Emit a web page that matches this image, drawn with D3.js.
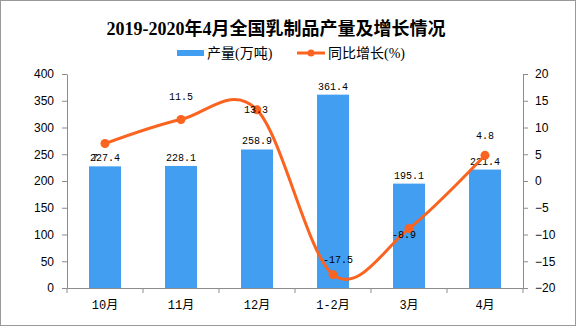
<!DOCTYPE html>
<html><head><meta charset="utf-8">
<script src="https://cdn.jsdelivr.net/npm/d3@7"></script>
<style>body{margin:0;background:#fff}svg{display:block}</style>
</head><body>
<script>
const categories = ["10月","11月","12月","1-2月","3月","4月"];
const output = [227.4, 228.1, 258.9, 361.4, 195.1, 221.4];
const growth = [7, 11.5, 13.3, -17.5, -8.9, 4.8];
const leftTicks = [0,50,100,150,200,250,300,350,400];
const rightTicks = [-20,-15,-10,-5,0,5,10,15,20];
const title = "2019-2020年4月全国乳制品产量及增长情况";
const legendNames = ["产量(万吨)","同比增长(%)"];
// label nudges (dx, dy from point) for the growth labels, as in the reference
const growthLabelNudge = [[-10,17],[0,-19],[-1,3],[5,-12],[-5,9],[0,-16]];

const W = 576, H = 327;
const barColor = "#419ef0", lineColor = "#fa6420", axisColor = "#8c8c8c";
const m = {l:67, r:523, t:74, b:288};

const svg = d3.select("body").append("svg").attr("width",W).attr("height",H);
svg.append("rect").attr("x",0.5).attr("y",0.5).attr("width",W-1).attr("height",325)
  .attr("fill","#fff").attr("stroke","#999");

const x = d3.scaleBand().domain(categories).range([m.l,m.r]).paddingInner(0.579).paddingOuter(0.2895);
const yL = d3.scaleLinear().domain([0,400]).range([m.b,m.t]);
const yR = d3.scaleLinear().domain([-20,20]).range([m.b,m.t]);

// title
svg.append("text").attr("x",276).attr("y",35).attr("text-anchor","middle")
  .attr("font-family","'Liberation Serif','Noto Sans CJK SC'").attr("font-weight","bold")
  .attr("font-size",18).text(title);

// legend
const lg = svg.append("g").attr("font-family","'Liberation Serif','Noto Sans CJK SC'").attr("font-size",14);
lg.append("rect").attr("x",177).attr("y",50).attr("width",27).attr("height",6).attr("fill",barColor);
lg.append("text").attr("x",207).attr("y",58).text(legendNames[0]);
lg.append("line").attr("x1",297).attr("x2",325).attr("y1",53).attr("y2",53).attr("stroke",lineColor).attr("stroke-width",3);
lg.append("circle").attr("cx",311).attr("cy",53).attr("r",3.5).attr("fill",lineColor);
lg.append("text").attr("x",328).attr("y",58).text(legendNames[1]);

// axes
const styleAxis = g => {
  g.selectAll("path,line").attr("stroke",axisColor);
  g.selectAll("text").attr("fill","#000").attr("font-family","'Liberation Sans','Noto Sans CJK SC'").attr("font-size",12);
};
svg.append("g").attr("transform",`translate(${m.l},0)`)
  .call(d3.axisLeft(yL).tickValues(leftTicks).tickSize(5).tickSizeOuter(0).tickPadding(8))
  .call(styleAxis);
svg.append("g").attr("transform",`translate(${m.r},0)`)
  .call(d3.axisRight(yR).tickValues(rightTicks).tickSize(5).tickSizeOuter(0).tickPadding(7))
  .call(styleAxis);
const xa = svg.append("g").attr("transform",`translate(0,${m.b})`)
  .call(d3.axisBottom(x).tickSize(0).tickSizeOuter(0).tickPadding(12))
  .call(styleAxis);
xa.selectAll("text").attr("font-family","'Liberation Mono','Noto Sans CJK SC'");
const gap = (x.step()-x.bandwidth())/2;
const bounds = categories.map(c => x(c)-gap).concat([x(categories[categories.length-1])+x.bandwidth()+gap]);
xa.selectAll("line.b").data(bounds).join("line").attr("class","b")
  .attr("x1",d=>d).attr("x2",d=>d).attr("y1",0).attr("y2",5).attr("stroke",axisColor);

// bars
svg.append("g").selectAll("rect").data(output).join("rect")
  .attr("x",(d,i)=>x(categories[i])).attr("width",x.bandwidth())
  .attr("y",d=>yL(d)).attr("height",d=>yL(0)-yL(d)).attr("fill",barColor);

// bar labels
svg.append("g").attr("font-family","'Liberation Mono',monospace").attr("font-size",10)
  .selectAll("text").data(output).join("text")
  .attr("x",(d,i)=>x(categories[i])+x.bandwidth()/2).attr("y",d=>yL(d)-5)
  .attr("text-anchor","middle").text(d=>d.toFixed(1));

// line
const cx = i => x(categories[i])+x.bandwidth()/2;
const line = d3.line().x((d,i)=>cx(i)).y(d=>yR(d)).curve(d3.curveCardinal.tension(0));
svg.append("path").datum(growth).attr("d",line).attr("fill","none")
  .attr("stroke",lineColor).attr("stroke-width",3);
svg.append("g").selectAll("circle").data(growth).join("circle")
  .attr("cx",(d,i)=>cx(i)).attr("cy",d=>yR(d)).attr("r",4.5).attr("fill",lineColor);

// line labels
svg.append("g").attr("font-family","'Liberation Mono',monospace").attr("font-size",10)
  .selectAll("text").data(growth).join("text")
  .attr("x",(d,i)=>cx(i)+growthLabelNudge[i][0]).attr("y",(d,i)=>yR(d)+growthLabelNudge[i][1])
  .attr("text-anchor","middle").text(d=>String(d));
</script>
</body></html>
